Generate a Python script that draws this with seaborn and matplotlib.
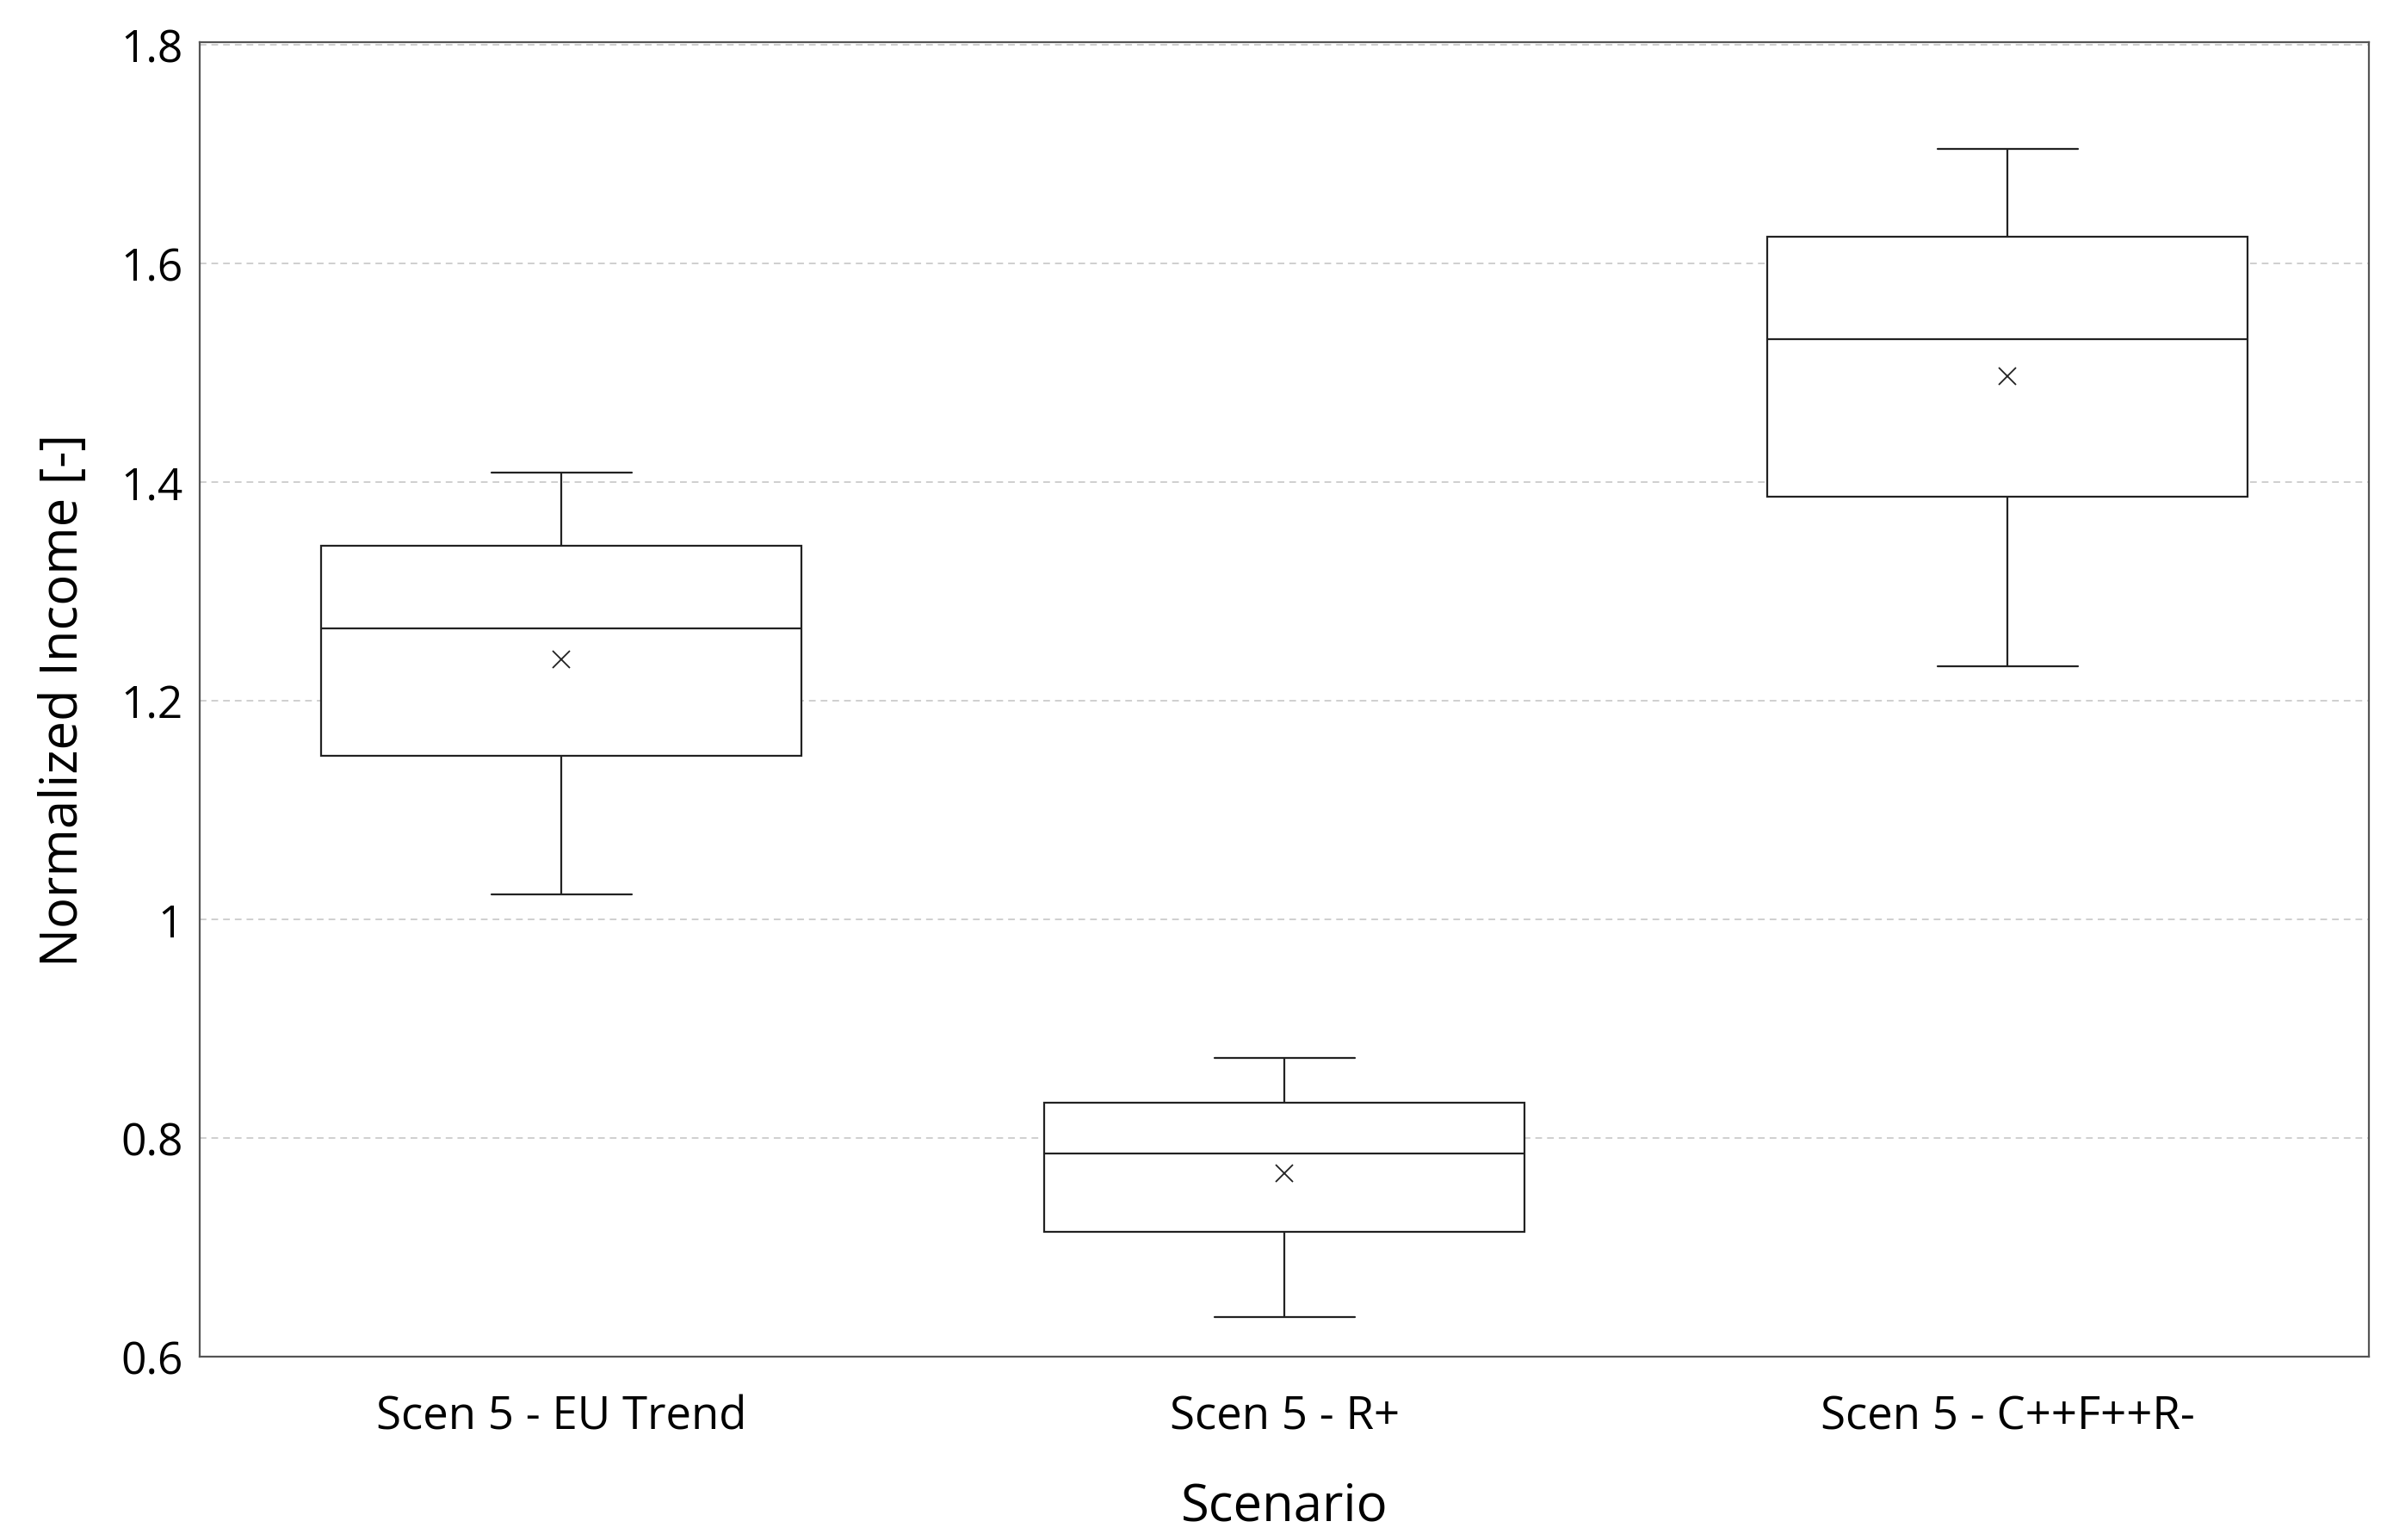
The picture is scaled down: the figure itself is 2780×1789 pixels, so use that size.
import pandas as pd
import matplotlib
matplotlib.use("Agg")
import matplotlib.pyplot as plt
import seaborn as sns

# values (box stats per scenario)
scenarios = ["Scen 5 - EU Trend", "Scen 5 - R+", "Scen 5 - C++F++R-"]
whisker_low = [1.023, 0.636, 1.232]
q1 = [1.150, 0.714, 1.387]
median = [1.266, 0.786, 1.531]
q3 = [1.342, 0.832, 1.625]
whisker_high = [1.409, 0.873, 1.705]
mean = [1.238, 0.768, 1.497]

yticks = [0.6, 0.8, 1.0, 1.2, 1.4, 1.6, 1.8]
ytick_labels = ["0.6", "0.8", "1", "1.2", "1.4", "1.6", "1.8"]

# long form table: five-number summary per scenario -> whis=(0, 100) reproduces it
rows = []
for i, s in enumerate(scenarios):
    for v in (whisker_low[i], q1[i], median[i], q3[i], whisker_high[i]):
        rows.append({"Scenario": s, "Normalized Income [-]": v})
df = pd.DataFrame(rows)
means_df = pd.DataFrame({"Scenario": scenarios, "Mean": mean})

sns.set_theme(style="white")
plt.rcParams["font.family"] = ["Open Sans", "DejaVu Sans"]

line_col = "#222222"
fig = plt.figure(figsize=(27.8, 17.9), dpi=100)
ax = fig.add_axes([0.0835, 0.119, 0.9065, 0.853])

sns.boxplot(data=df, x="Scenario", y="Normalized Income [-]", order=scenarios,
            whis=(0, 100), width=0.665, color="white", linecolor=line_col,
            linewidth=1.6, fliersize=0, ax=ax)

# shorten the caps to match the reference (~0.29 of the box width)
for ln in ax.lines:
    xd = list(ln.get_xdata())
    yd = list(ln.get_ydata())
    if len(xd) == 2 and yd[0] == yd[1] and abs(xd[1] - xd[0]) < 0.6:
        c = (xd[0] + xd[1]) / 2
        ln.set_xdata([c - 0.097, c + 0.097])

sns.pointplot(data=means_df, x="Scenario", y="Mean", order=scenarios,
              marker="x", linestyle="none", color=line_col, errorbar=None,
              markersize=15, markeredgewidth=1.3, ax=ax)

ax.set_xlim(-0.5, 2.5)
ax.set_ylim(0.6, 1.8026)
ax.set_yticks(yticks)
ax.set_yticklabels(ytick_labels)
ax.yaxis.grid(True, color="#cfcfcf", linestyle=(0, (4, 3)), linewidth=1.4)
ax.set_axisbelow(True)

for sp in ax.spines.values():
    sp.set_color("#555555")
    sp.set_linewidth(1.6)

ax.tick_params(axis="both", length=0, colors="black")
ax.tick_params(axis="x", pad=31, labelsize=38)
ax.tick_params(axis="y", pad=14, labelsize=37)

ax.set_xlabel("Scenario", fontsize=43, color="black")
ax.set_ylabel("Normalized Income [-]", fontsize=43, color="black")
ax.xaxis.set_label_coords(0.5, -0.094)
ax.yaxis.set_label_coords(-0.051, 0.5)

fig.savefig("out.png", dpi=100)
